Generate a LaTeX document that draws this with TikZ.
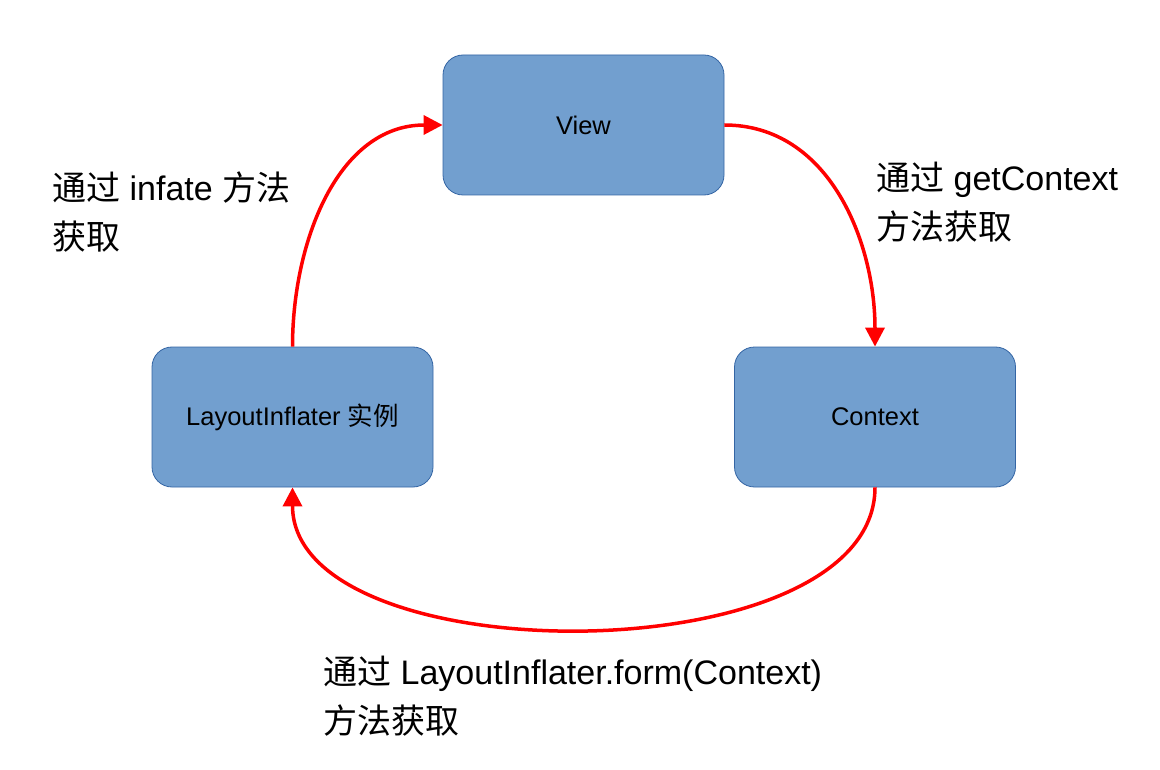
\documentclass[tikz,border=0pt]{standalone}
\usepackage{fontspec}
\setmainfont{Liberation Sans}
\newfontfamily\cjk{Noto Sans CJK SC}
\usetikzlibrary{arrows.meta,positioning}
\definecolor{boxfill}{HTML}{729FCF}
\definecolor{boxline}{HTML}{3465A4}
\definecolor{flow}{HTML}{FF0000}

\begin{document}
\begin{tikzpicture}[x=1pt,y=-1pt,box/.style={draw=boxline,fill=boxfill,rounded corners=20pt,line width=0.8pt,
minimum width=281pt,minimum height=140pt,align=center,font=\fontsize{25.5}{30}\selectfont},
arr/.style={-{Triangle[length=19pt,width=19pt]},color=flow,line width=3.5pt},
lbl/.style={anchor=west,align=left,inner sep=0pt,font=\fontsize{34}{49}\selectfont}]
\useasboundingbox (0,0) rectangle (1160,770);
\node[box] (view) at (583.5,125) {View};
\node[box] (inflater) at (292.5,417) {LayoutInflater {\cjk 实例}};
\node[box] (context) at (875,417) {Context};
\draw[arr] (inflater.north) to[out=90,in=180] (view.west);
\draw[arr] (view.east) to[out=0,in=90] (context.north);
\draw[arr] (context.south) to[out=-90,in=-90,looseness=0.83] (inflater.south);
\node[lbl] (viaInflate) at (52,212) {{\cjk 通过} infate {\cjk 方法}\\{\cjk 获取}};
\node[lbl] (viaGet) at (876,202) {{\cjk 通过} getContext\\{\cjk 方法获取}};
\node[lbl] (viaFrom) at (323,696) {{\cjk 通过} LayoutInflater.form(Context)\\{\cjk 方法获取}};
\end{tikzpicture}
\end{document}
